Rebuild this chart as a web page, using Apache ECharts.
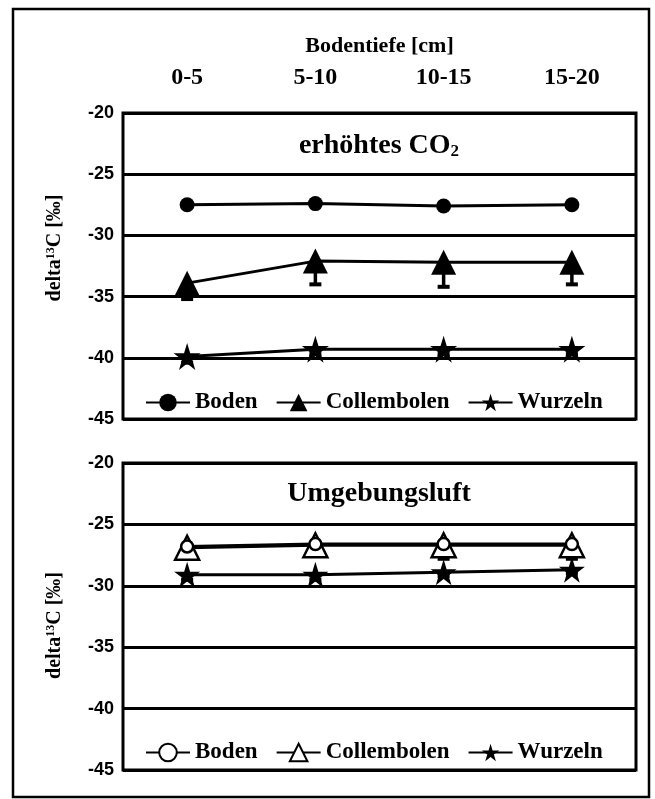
<!DOCTYPE html>
<html>
<head>
<meta charset="utf-8">
<script src="https://cdn.jsdelivr.net/npm/echarts@6/dist/echarts.min.js"></script>
<style>
  html, body { margin: 0; padding: 0; background: #fff; }
  #chart { width: 655px; height: 799px; }
</style>
</head>
<body>
<div id="chart"></div>
<script>
// Bodentiefe categories and tick labels
const depths = ["0-5", "5-10", "10-15", "15-20"];
const yTicks = [-45, -40, -35, -30, -25, -20];

// erhöhtes CO2
const co2Boden = [-27.5, -27.4, -27.6, -27.5];
const co2Coll = [-33.9, -32.1, -32.2, -32.2];
const co2CollLow = [-35.2, -34.0, -34.2, -34.0];
const co2Wurz = [-39.9, -39.3, -39.3, -39.3];
const co2WurzLow = [-40.4, -39.7, -39.7, -39.7];

// Umgebungsluft
const airBoden = [-26.8, -26.6, -26.6, -26.6];
const airColl = [-26.9, -26.7, -26.7, -26.7];
const airCollLow = [-27.3, -27.2, -27.8, -27.8];
const airWurz = [-29.1, -29.1, -28.9, -28.7];
const airWurzLow = [-29.5, -29.5, -29.2, -29.0];

const serif = "Liberation Serif";
const sans = "Liberation Sans";
const star = "path://M50,0 L61,35 L98,35 L68,57 L79,92 L50,70 L21,92 L32,57 L2,35 L39,35 Z";
const chart = echarts.init(document.getElementById("chart"));

function errBars(idx, vals, low) {
  return {
    type: "custom",
    xAxisIndex: idx,
    yAxisIndex: idx,
    z: 1,
    silent: true,
    data: vals.map((v, i) => [i, v, low[i]]),
    renderItem: function (params, api) {
      const p1 = api.coord([api.value(0), api.value(1)]);
      const p2 = api.coord([api.value(0), api.value(2)]);
      return {
        type: "group",
        children: [
          { type: "line", shape: { x1: p1[0], y1: p1[1], x2: p2[0], y2: p2[1] }, style: { stroke: "#000", lineWidth: 3.5 } },
          { type: "line", shape: { x1: p2[0] - 6, y1: p2[1], x2: p2[0] + 6, y2: p2[1] }, style: { stroke: "#000", lineWidth: 4 } }
        ]
      };
    }
  };
}

function lineSeries(name, idx, data, symbol, size, fill, z) {
  return {
    name: name,
    type: "line",
    xAxisIndex: idx,
    yAxisIndex: idx,
    data: data,
    symbol: symbol,
    symbolSize: size,
    showAllSymbol: true,
    z: z,
    lineStyle: { color: "#000", width: 3 },
    itemStyle: { color: fill, borderColor: "#000", borderWidth: fill === "#fff" ? 2.5 : 0 }
  };
}

const grids = [
  { left: 123, top: 113, width: 513, height: 306 },
  { left: 123, top: 463, width: 513, height: 307 }
];

function yAxis(idx, pad) {
  return {
    type: "value",
    gridIndex: idx,
    min: yTicks[0],
    max: yTicks[yTicks.length - 1],
    interval: 5,
    name: "{t|delta}{s|13}{t|C [‰]}",
    nameLocation: "middle",
    nameGap: 58,
    nameTextStyle: {
      padding: pad,
      rich: {
        t: { fontFamily: serif, fontWeight: "bold", fontSize: 20, color: "#000" },
        s: { fontFamily: serif, fontWeight: "bold", fontSize: 12, color: "#000", verticalAlign: "top", padding: [0, 0, 8, 0] }
      }
    },
    axisLine: { show: false },
    axisTick: { show: false },
    axisLabel: { margin: 9, color: "#000", fontFamily: sans, fontWeight: "bold", fontSize: 18 },
    splitLine: { show: true, lineStyle: { color: "#000", width: 3 } }
  };
}

const legendText = { fontFamily: serif, fontWeight: "bold", fontSize: 23, color: "#000" };

const option = {
  animation: false,
  backgroundColor: "#fff",
  grid: grids.map(g => Object.assign({ show: true, borderColor: "#000", borderWidth: 3, backgroundColor: "transparent" }, g)),
  xAxis: [
    {
      type: "category",
      gridIndex: 0,
      data: depths,
      position: "top",
      name: "Bodentiefe [cm]",
      nameLocation: "middle",
      nameGap: 56,
      nameTextStyle: { fontFamily: serif, fontWeight: "bold", fontSize: 22, color: "#000" },
      axisLine: { show: false },
      axisTick: { show: false },
      axisLabel: { margin: 23, color: "#000", fontFamily: serif, fontWeight: "bold", fontSize: 24 }
    },
    {
      type: "category",
      gridIndex: 1,
      data: depths,
      axisLine: { show: false },
      axisTick: { show: false },
      axisLabel: { show: false }
    }
  ],
  yAxis: [yAxis(0, [0, 0, 0, 36]), yAxis(1, [0, 18, 0, 0])],
  legend: [
    {
      data: ["Boden", "Collembolen", "Wurzeln"],
      left: 140, top: 386,
      itemWidth: 44, itemHeight: 22, itemGap: 18,
      textStyle: legendText
    },
    {
      data: ["Boden|2", "Collembolen|2", "Wurzeln|2"],
      formatter: n => n.split("|")[0],
      left: 140, top: 736,
      itemWidth: 44, itemHeight: 22, itemGap: 18,
      textStyle: legendText
    }
  ],
  graphic: [
    { type: "rect", shape: { x: 13, y: 9, width: 636, height: 788 }, style: { fill: "none", stroke: "#000", lineWidth: 2.5 }, silent: true },
    {
      type: "text", x: 379, y: 146, silent: true,
      style: {
        text: "{t|erhöhtes CO}{s|2}", align: "center", verticalAlign: "middle",
        rich: {
          t: { fontFamily: serif, fontWeight: "bold", fontSize: 28, fill: "#000" },
          s: { fontFamily: serif, fontWeight: "bold", fontSize: 17, fill: "#000", padding: [12, 0, 0, 0] }
        }
      }
    },
    {
      type: "text", x: 379, y: 494, silent: true,
      style: { text: "Umgebungsluft", align: "center", verticalAlign: "middle", fontFamily: serif, fontWeight: "bold", fontSize: 28, fill: "#000" }
    }
  ],
  series: [
    errBars(0, co2Coll, co2CollLow),
    errBars(0, co2Wurz, co2WurzLow),
    lineSeries("Boden", 0, co2Boden, "circle", 15, "#000", 3),
    lineSeries("Collembolen", 0, co2Coll, "triangle", 25, "#000", 3),
    lineSeries("Wurzeln", 0, co2Wurz, star, 27, "#000", 3),
    errBars(1, airColl, airCollLow),
    errBars(1, airWurz, airWurzLow),
    lineSeries("Collembolen|2", 1, airColl, "triangle", 24, "#fff", 3),
    lineSeries("Boden|2", 1, airBoden, "circle", 12, "#fff", 4),
    lineSeries("Wurzeln|2", 1, airWurz, star, 26, "#000", 3)
  ]
};

chart.setOption(option);
</script>
</body>
</html>
